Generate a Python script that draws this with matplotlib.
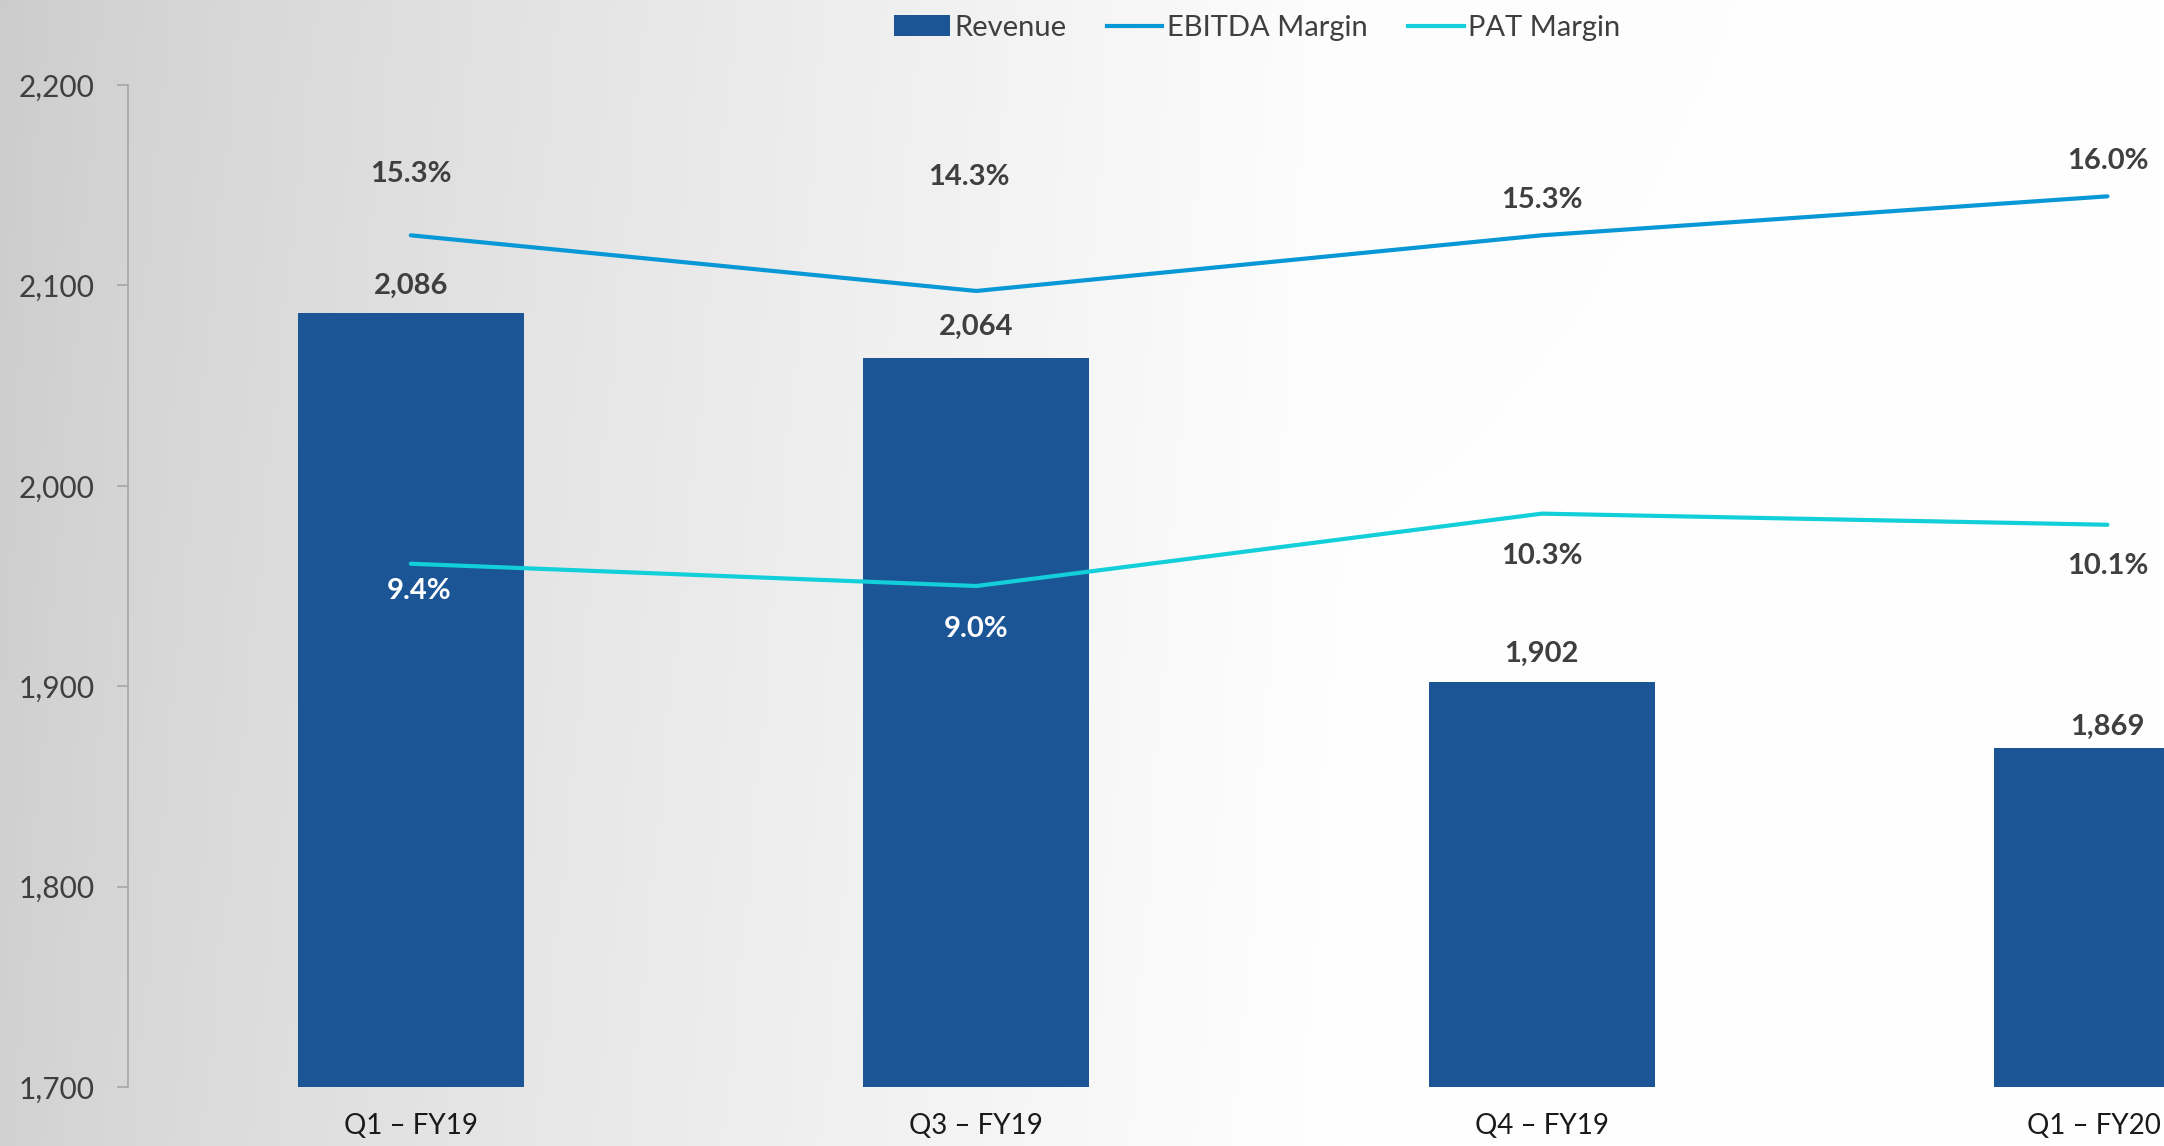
import numpy as np
import matplotlib.pyplot as plt
import matplotlib.transforms as mtransforms
from matplotlib.patches import Patch
from matplotlib.lines import Line2D

# Data
quarters = ['Q1 – FY19', 'Q3 – FY19', 'Q4 – FY19', 'Q1 – FY20']
revenue = [2086, 2064, 1902, 1869]
ebitda_margin = [15.3, 14.3, 15.3, 16.0]
pat_margin = [9.4, 9.0, 10.3, 10.1]

BAR_COLOR = '#1b5596'
EBITDA_COLOR = '#0898d6'
PAT_COLOR = '#12cfd9'
TEXT_DARK = '#3f3f3f'

plt.rcParams['font.family'] = ['Lato', 'DejaVu Sans']


def draw_background(fig):
    # light grey to white gradient behind the whole slide
    bg = fig.add_axes([0, 0, 1, 1], zorder=-10)
    x = np.linspace(0, 1, 400)
    y = np.linspace(0, 1, 200)
    X, Y = np.meshgrid(x, y)
    shade = 0.82 + 0.18 * np.clip(X / 0.62, 0, 1) ** 0.8
    shade = np.clip(shade - 0.02 * (1 - Y) * (1 - X), 0, 1)
    img = np.dstack([shade, shade, shade])
    bg.imshow(img, aspect='auto', extent=[0, 1, 0, 1], origin='upper')
    bg.axis('off')


def main():
    fig = plt.figure(figsize=(21.64, 11.46), dpi=100)
    draw_background(fig)

    ax = fig.add_axes([128 / 2164, 1 - 1087 / 1146, 1 - 128 / 2164, (1087 - 85) / 1146])
    ax.patch.set_alpha(0)
    x = np.arange(len(quarters))

    ax.bar(x, revenue, width=0.4, color=BAR_COLOR, zorder=2)
    ax.set_xlim(-0.5, 3.1)
    ax.set_ylim(1700, 2200)
    ax.set_yticks(np.arange(1700, 2201, 100))
    ax.set_yticklabels([f'{v:,}' for v in range(1700, 2201, 100)])
    ax.set_xticks(x)
    ax.set_xticklabels(quarters)

    for s in ['top', 'right', 'bottom']:
        ax.spines[s].set_visible(False)
    ax.spines['left'].set_color('#a6a6a6')
    ax.spines['left'].set_linewidth(1.2)
    ax.tick_params(axis='y', colors='#a6a6a6', labelcolor=TEXT_DARK, labelsize=21.5,
                   length=8, width=1.2, pad=16)
    ax.tick_params(axis='x', length=0, labelsize=20, labelcolor='#1a1a1a', pad=19)

    # last category label sits against the right edge
    last = ax.get_xticklabels()[-1]
    last.set_transform(last.get_transform() +
                       mtransforms.ScaledTranslation(-14 / 100, 0, fig.dpi_scale_trans))

    offsets_rev = [22, 24, 22, 17]
    for xi, v, off in zip(x, revenue, offsets_rev):
        ax.annotate(f'{v:,}', (xi, v), xytext=(0, off), textcoords='offset points',
                    ha='center', va='center_baseline', fontsize=21, fontweight='bold',
                    color=TEXT_DARK, zorder=5)

    # margins on a hidden secondary axis
    ax2 = ax.twinx()
    ax2.set_ylim(0, 18)
    ax2.axis('off')
    ax2.plot(x, ebitda_margin, color=EBITDA_COLOR, lw=3, solid_capstyle='round', zorder=3)
    ax2.plot(x, pat_margin, color=PAT_COLOR, lw=3, solid_capstyle='round', zorder=3)

    offsets_ebitda = [(0, 46), (-5, 84), (0, 27), (0, 27)]
    for xi, v, off in zip(x, ebitda_margin, offsets_ebitda):
        ax2.annotate(f'{v:.1f}%', (xi, v), xytext=off, textcoords='offset points',
                     ha='center', va='center_baseline', fontsize=21, fontweight='bold',
                     color=TEXT_DARK)

    offsets_pat = [(6, -18), (0, -29), (0, -29), (0, -28)]
    pat_colors = ['white', 'white', TEXT_DARK, TEXT_DARK]
    for xi, v, off, c in zip(x, pat_margin, offsets_pat, pat_colors):
        ax2.annotate(f'{v:.1f}%', (xi, v), xytext=off,
                     textcoords='offset points', ha='center', va='center_baseline',
                     fontsize=21, fontweight='bold', color=c)

    handles = [Patch(facecolor=BAR_COLOR),
               Line2D([0], [0], color=EBITDA_COLOR, lw=3),
               Line2D([0], [0], color=PAT_COLOR, lw=3)]
    fig.legend(handles, ['Revenue', 'EBITDA Margin', 'PAT Margin'],
               loc='upper center', bbox_to_anchor=(0.581, 1.01), ncol=3,
               frameon=False, fontsize=21, labelcolor=TEXT_DARK,
               handlelength=1.9, handletextpad=0.15, columnspacing=1.4)

    fig.savefig('out.png', dpi=100)


if __name__ == '__main__':
    main()
